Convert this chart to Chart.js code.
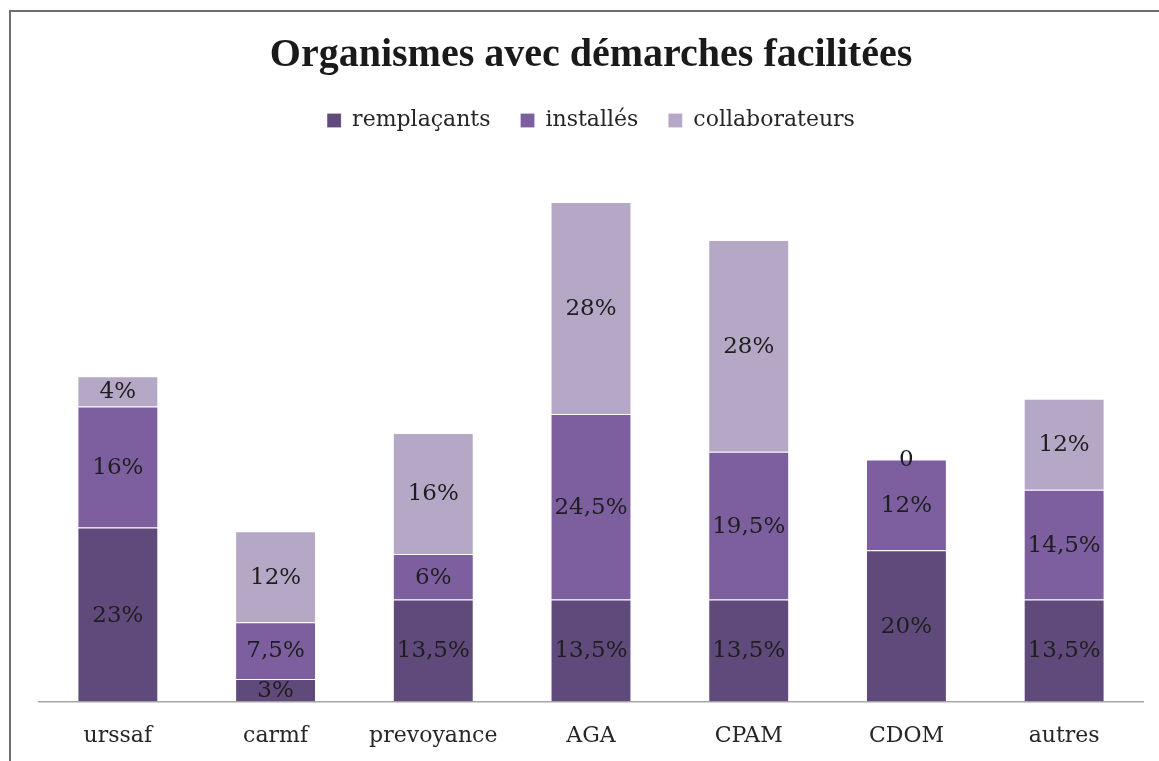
<!DOCTYPE html>
<html><head><meta charset="utf-8">
<script src="https://cdn.jsdelivr.net/npm/chart.js@4.4.0/dist/chart.umd.min.js"></script>
<style>html,body{margin:0;padding:0;background:#fff;overflow:hidden}</style>
</head><body>
<canvas id="c" width="1159" height="761"></canvas>
<script>
const categories = ['urssaf', 'carmf', 'prevoyance', 'AGA', 'CPAM', 'CDOM', 'autres'];
const seriesNames = ['remplaçants', 'installés', 'collaborateurs'];
const remplacants = [23, 3, 13.5, 13.5, 13.5, 20, 13.5];
const installes = [16, 7.5, 6, 24.5, 19.5, 12, 14.5];
const collaborateurs = [4, 12, 16, 28, 28, 0, 12];
const titleText = 'Organismes avec démarches facilitées';

const colors = ['#604A7B', '#7D5FA0', '#B4A8C6'];
const serif = "'DejaVu Serif', serif";

function fmt(v) {
  if (v === 0) return '0';
  return String(v).replace('.', ',') + '%';
}

const framePlugin = {
  id: 'frame',
  beforeDraw(chart) {
    const ctx = chart.ctx;
    ctx.save();
    ctx.fillStyle = '#fff';
    ctx.fillRect(0, 0, chart.width, chart.height);
    ctx.strokeStyle = '#6e6e6e';
    ctx.lineWidth = 2;
    ctx.strokeRect(10, 11, chart.width + 50, chart.height + 50);
    ctx.restore();
  }
};

const labelPlugin = {
  id: 'segLabels',
  afterDatasetsDraw(chart) {
    const ctx = chart.ctx;
    ctx.save();
    ctx.font = "23px " + serif;
    ctx.fillStyle = '#1e1e1e';
    ctx.textAlign = 'center';
    ctx.textBaseline = 'middle';
    chart.data.datasets.forEach((ds, di) => {
      const meta = chart.getDatasetMeta(di);
      meta.data.forEach((el, i) => {
        const p = el.getProps(['x', 'y', 'base'], true);
        ctx.fillText(fmt(ds.data[i]), p.x, (p.y + p.base) / 2 + 1);
      });
    });
    ctx.restore();
  }
};

new Chart(document.getElementById('c'), {
  type: 'bar',
  data: {
    labels: categories,
    datasets: [
      { label: seriesNames[0], data: remplacants, backgroundColor: colors[0] },
      { label: seriesNames[1], data: installes, backgroundColor: colors[1] },
      { label: seriesNames[2], data: collaborateurs, backgroundColor: colors[2] }
    ].map(d => Object.assign(d, {
      borderColor: 'rgba(255,255,255,0.22)', borderWidth: 1,
      barPercentage: 0.513, categoryPercentage: 1
    }))
  },
  options: {
    responsive: false,
    animation: false,
    devicePixelRatio: 1,
    layout: { padding: { left: 39, right: 16, top: 10, bottom: -9 } },
    plugins: {
      title: {
        display: true, text: titleText, color: '#1a1a1a',
        font: { family: "'Liberation Serif', serif", size: 40, weight: 'bold', lineHeight: 1.2 },
        padding: { top: 21.5, bottom: 0 }
      },
      legend: {
        display: true, position: 'top',
        labels: {
          boxWidth: 14, boxHeight: 14, padding: 30, color: '#262626',
          font: { family: serif, size: 22 }
        }
      },
      tooltip: { enabled: false }
    },
    scales: {
      x: {
        stacked: true,
        grid: { display: false, drawTicks: false },
        border: { display: true, color: '#a6a6a6', width: 1.5 },
        ticks: { color: '#262626', font: { family: serif, size: 22 }, padding: 21 }
      },
      y: {
        stacked: true, display: false, min: 0, max: 74
      }
    }
  },
  plugins: [framePlugin, labelPlugin]
});
</script>
</body></html>
